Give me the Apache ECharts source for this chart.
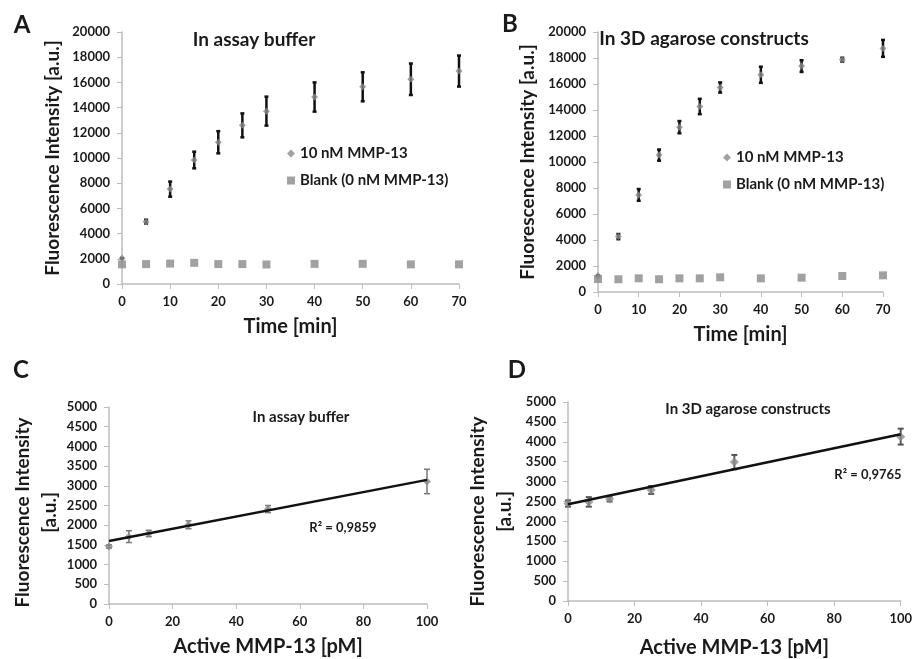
<!DOCTYPE html>
<html>
<head>
<meta charset="utf-8">
<script src="https://cdn.jsdelivr.net/npm/echarts@6/dist/echarts.min.js"></script>
<style>
  html, body { margin: 0; padding: 0; background: #fff; }
  #chart { width: 915px; height: 659px; }
</style>
</head>
<body>
<div id="chart"></div>
<script>
// panel A: in assay buffer, time course
var timeA = [0, 5, 10, 15, 20, 25, 30, 40, 50, 60, 70];
var mmpA = [2050, 4950, 7530, 9840, 11250, 12590, 13720, 14840, 15650, 16250, 16900];
var mmpErrA = [0, 150, 600, 660, 880, 950, 1150, 1160, 1150, 1250, 1230];
var blankA = [1560, 1580, 1620, 1680, 1580, 1580, 1550, 1600, 1600, 1560, 1560];

// panel B: in 3D agarose constructs, time course
var timeB = [0, 5, 10, 15, 20, 25, 30, 40, 50, 60, 70];
var mmpB = [1250, 4260, 7470, 10530, 12680, 14270, 15730, 16710, 17380, 17870, 18740];
var mmpErrB = [0, 200, 450, 430, 470, 590, 390, 620, 450, 150, 650];
var blankB = [1000, 980, 1050, 980, 1050, 1050, 1130, 1050, 1100, 1230, 1280];

// panel C: standard curve in assay buffer
var concC = [0, 6.25, 12.5, 25, 50, 100];
var fluoC = [1460, 1710, 1790, 2010, 2410, 3110];
var fluoErrC = [40, 150, 80, 100, 90, 310];
var trendC = [[0, 1600], [100, 3150]];

// panel D: standard curve in 3D agarose constructs
var concD = [0, 6.25, 12.5, 25, 50, 100];
var fluoD = [2450, 2490, 2560, 2790, 3490, 4130];
var fluoErrD = [80, 120, 60, 100, 180, 200];
var trendD = [[0, 2430], [100, 4190]];

var FONT = 'Lato, "DejaVu Sans", sans-serif';
var GRAY = '#8a8a8a';
var AXIS = '#bdbdbd';

function pairs(xs, ys) {
  return xs.map(function (x, i) { return [x, ys[i]]; });
}
function errData(xs, ys, es) {
  return xs.map(function (x, i) { return [x, ys[i] - es[i], ys[i] + es[i]]; });
}
function errRender(color, width, cap) {
  return function (params, api) {
    var x = api.value(0);
    var lo = api.coord([x, api.value(1)]);
    var hi = api.coord([x, api.value(2)]);
    var st = { stroke: color, lineWidth: width };
    return {
      type: 'group',
      children: [
        { type: 'line', shape: { x1: lo[0], y1: lo[1], x2: hi[0], y2: hi[1] }, style: st },
        { type: 'line', shape: { x1: lo[0] - cap, y1: lo[1], x2: lo[0] + cap, y2: lo[1] }, style: st },
        { type: 'line', shape: { x1: hi[0] - cap, y1: hi[1], x2: hi[0] + cap, y2: hi[1] }, style: st }
      ]
    };
  };
}
function plain(v) { return String(v); }

function xAxisOf(idx, max, interval, name, gap) {
  return {
    gridIndex: idx, type: 'value', min: 0, max: max, interval: interval,
    name: name, nameLocation: 'middle', nameGap: gap,
    nameTextStyle: { fontFamily: FONT, fontWeight: 'bold', fontSize: 20, color: '#1a1a1a' },
    axisLine: { lineStyle: { color: AXIS, width: 1.5 } },
    axisTick: { show: true, length: 5, lineStyle: { color: AXIS } },
    axisLabel: { fontFamily: FONT, fontWeight: 'bold', fontSize: 13, color: '#1a1a1a', margin: 11, formatter: plain },
    splitLine: { show: false }
  };
}
function yAxisOf(idx, max, interval, name, gap, pad) {
  return {
    gridIndex: idx, type: 'value', min: 0, max: max, interval: interval,
    name: name, nameLocation: 'middle', nameGap: gap,
    nameTextStyle: { fontFamily: FONT, fontWeight: 'bold', fontSize: 19, color: '#1a1a1a', lineHeight: 27,
      padding: [0, pad, 0, 0] },
    axisLine: { show: true, lineStyle: { color: AXIS, width: 1.5 } },
    axisTick: { show: true, length: 5, lineStyle: { color: AXIS } },
    axisLabel: { fontFamily: FONT, fontWeight: 'bold', fontSize: 13, color: '#1a1a1a', margin: 12, formatter: plain },
    splitLine: { show: false }
  };
}

function txt(text, x, y, size, align) {
  return {
    type: 'text', x: x, y: y, z: 100,
    style: {
      text: text, fill: '#1a1a1a', font: 'bold ' + size + 'px ' + FONT,
      align: align || 'center', verticalAlign: 'middle'
    }
  };
}

var chart = echarts.init(document.getElementById('chart'));

var option = {
  animation: false,
  backgroundColor: '#ffffff',
  grid: [
    { left: 122, top: 32, width: 337, height: 252 },
    { left: 598, top: 32, width: 285, height: 260 },
    { left: 109, top: 407, width: 318, height: 197 },
    { left: 568, top: 402, width: 334, height: 199 }
  ],
  xAxis: [
    xAxisOf(0, 70, 10, 'Time [min]', 33),
    xAxisOf(1, 70, 10, 'Time [min]', 33),
    xAxisOf(2, 100, 20, 'Active MMP-13 [pM]', 33),
    xAxisOf(3, 100, 20, 'Active MMP-13 [pM]', 37)
  ],
  yAxis: [
    yAxisOf(0, 20000, 2000, 'Fluorescence Intensity [a.u.]', 56, 0),
    yAxisOf(1, 20000, 2000, 'Fluorescence Intensity [a.u.]', 57, 0),
    yAxisOf(2, 5000, 500, 'Fluorescence Intensity\n[a.u.]', 42, 14),
    yAxisOf(3, 5000, 500, 'Fluorescence Intensity\n[a.u.]', 50, 20)
  ],
  legend: [
    {
      left: 282, top: 141, orient: 'vertical', itemGap: 12, itemWidth: 8, itemHeight: 8,
      textStyle: { fontFamily: FONT, fontWeight: 'bold', fontSize: 15, color: '#1a1a1a' },
      data: [{ name: '10 nM MMP-13', icon: 'diamond' }, { name: 'Blank (0 nM MMP-13)', icon: 'rect' }]
    },
    {
      left: 718, top: 145, orient: 'vertical', itemGap: 12, itemWidth: 8, itemHeight: 8,
      textStyle: { fontFamily: FONT, fontWeight: 'bold', fontSize: 15, color: '#1a1a1a' },
      data: [{ name: '10 nM MMP-13', icon: 'diamond' }, { name: 'Blank (0 nM MMP-13)', icon: 'rect' }]
    }
  ],
  graphic: [
    txt('A', 22, 25, 24), txt('B', 510, 24, 24), txt('C', 21, 370, 24), txt('D', 517, 370, 24),
    txt('In assay buffer', 254, 40, 19),
    txt('In 3D agarose constructs', 704, 39, 19),
    txt('In assay buffer', 301, 417, 15),
    txt('In 3D agarose constructs', 748, 409, 15),
    txt('R² = 0,9859', 343, 528, 13),
    txt('R² = 0,9765', 868, 475, 13)
  ],
  series: [
    // A
    { type: 'custom', xAxisIndex: 0, yAxisIndex: 0, renderItem: errRender('#111', 2.5, 2),
      data: errData(timeA, mmpA, mmpErrA), encode: { x: 0, y: [1, 2] }, z: 2 },
    { name: '10 nM MMP-13', type: 'scatter', xAxisIndex: 0, yAxisIndex: 0, symbol: 'diamond',
      symbolSize: 7, itemStyle: { color: GRAY }, data: pairs(timeA, mmpA), z: 3 },
    { name: 'Blank (0 nM MMP-13)', type: 'scatter', xAxisIndex: 0, yAxisIndex: 0, symbol: 'rect',
      symbolSize: 8, itemStyle: { color: GRAY }, data: pairs(timeA, blankA), z: 3 },
    // B
    { type: 'custom', xAxisIndex: 1, yAxisIndex: 1, renderItem: errRender('#111', 2.5, 2),
      data: errData(timeB, mmpB, mmpErrB), encode: { x: 0, y: [1, 2] }, z: 2 },
    { name: '10 nM MMP-13', type: 'scatter', xAxisIndex: 1, yAxisIndex: 1, symbol: 'diamond',
      symbolSize: 7, itemStyle: { color: GRAY }, data: pairs(timeB, mmpB), z: 3 },
    { name: 'Blank (0 nM MMP-13)', type: 'scatter', xAxisIndex: 1, yAxisIndex: 1, symbol: 'rect',
      symbolSize: 8, itemStyle: { color: GRAY }, data: pairs(timeB, blankB), z: 3 },
    // C
    { type: 'custom', xAxisIndex: 2, yAxisIndex: 2, renderItem: errRender('#777', 1.5, 3),
      data: errData(concC, fluoC, fluoErrC), encode: { x: 0, y: [1, 2] }, z: 2 },
    { type: 'scatter', xAxisIndex: 2, yAxisIndex: 2, symbol: 'diamond', symbolSize: 8,
      itemStyle: { color: GRAY }, data: pairs(concC, fluoC), z: 3 },
    { type: 'line', xAxisIndex: 2, yAxisIndex: 2, data: trendC, symbol: 'none',
      lineStyle: { color: '#111', width: 2.5 }, z: 4 },
    // D
    { type: 'custom', xAxisIndex: 3, yAxisIndex: 3, renderItem: errRender('#555', 2, 3),
      data: errData(concD, fluoD, fluoErrD), encode: { x: 0, y: [1, 2] }, z: 2 },
    { type: 'scatter', xAxisIndex: 3, yAxisIndex: 3, symbol: 'diamond', symbolSize: 9,
      itemStyle: { color: GRAY }, data: pairs(concD, fluoD), z: 3 },
    { type: 'line', xAxisIndex: 3, yAxisIndex: 3, data: trendD, symbol: 'none',
      lineStyle: { color: '#111', width: 2.5 }, z: 4 }
  ]
};

chart.setOption(option);
</script>
</body>
</html>
